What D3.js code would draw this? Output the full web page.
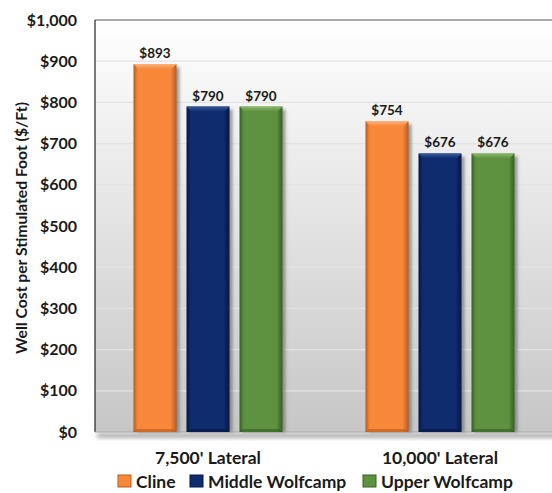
<!DOCTYPE html>
<html><head><meta charset="utf-8">
<script src="https://cdn.jsdelivr.net/npm/d3@7"></script>
<style>html,body{margin:0;padding:0;background:#fff;}svg{display:block;}</style>
</head><body>
<script>
const categories = ["7,500' Lateral", "10,000' Lateral"];
const seriesNames = ["Cline", "Middle Wolfcamp", "Upper Wolfcamp"];
const cline = [893, 754];
const middleWolfcamp = [790, 676];
const upperWolfcamp = [790, 676];
const yTicks = [0, 100, 200, 300, 400, 500, 600, 700, 800, 900, 1000];

const seriesValues = [cline, middleWolfcamp, upperWolfcamp];
const colors = [
  {main: "#F7883A", light: "#FBB27A", dark: "#B85A1C"},
  {main: "#0E2C6E", light: "#3A5A9E", dark: "#051640"},
  {main: "#5E9140", light: "#8DBA6C", dark: "#365F22"}
];

const W = 552, H = 493;
const svg = d3.select("body").append("svg").attr("width", W).attr("height", H)
  .style("font-family", "Lato, 'Open Sans', sans-serif");
const defs = svg.append("defs");

const plotL = 95, plotT = 20, plotB = 432, plotR = 560;
const y = d3.scaleLinear().domain([0, 1000]).range([plotB, plotT]);
const x0 = d3.scaleBand().domain(categories).range([92, 556]).padding(0);
const x1 = d3.scaleBand().domain(seriesNames).range([0, x0.bandwidth()])
  .paddingInner(0.189).paddingOuter(0.783);

const bg = defs.append("linearGradient").attr("id", "bg").attr("x1", 0).attr("y1", 0).attr("x2", 0).attr("y2", 1);
bg.append("stop").attr("offset", "0%").attr("stop-color", "#ffffff");
bg.append("stop").attr("offset", "100%").attr("stop-color", "#c6c6c6");

const fs = defs.append("filter").attr("id", "blur").attr("x", "-20%").attr("y", "-50%").attr("width", "140%").attr("height", "200%");
fs.append("feGaussianBlur").attr("stdDeviation", 2);
const bs = defs.append("filter").attr("id", "bblur").attr("x", "-50%").attr("y", "-10%").attr("width", "200%").attr("height", "120%");
bs.append("feGaussianBlur").attr("stdDeviation", 1.8);

svg.append("rect").attr("x", plotL + 2).attr("y", plotB + 1).attr("width", W).attr("height", 5)
  .attr("fill", "#9a9a9a").attr("filter", "url(#blur)").attr("opacity", 0.8);

svg.append("rect").attr("x", plotL).attr("y", plotT).attr("width", plotR - plotL).attr("height", plotB - plotT)
  .attr("fill", "url(#bg)");

svg.append("g").selectAll("line").data(yTicks.filter(d => d > 0 && d < 1000)).join("line")
  .attr("x1", plotL).attr("x2", W).attr("y1", d => y(d)).attr("y2", d => y(d))
  .attr("stroke", "#e3e3e3").attr("stroke-width", 1.2);

svg.append("line").attr("x1", plotL).attr("x2", W).attr("y1", plotT).attr("y2", plotT).attr("stroke", "#555").attr("stroke-width", 1.2);
svg.append("line").attr("x1", plotL).attr("x2", plotL).attr("y1", plotT).attr("y2", plotB).attr("stroke", "#222").attr("stroke-width", 1.2);
svg.append("line").attr("x1", plotL).attr("x2", W).attr("y1", plotB).attr("y2", plotB).attr("stroke", "#a8a8a8").attr("stroke-width", 1);

colors.forEach((c, i) => {
  const g = defs.append("linearGradient").attr("id", "bar" + i).attr("x1", 0).attr("x2", 1).attr("y1", 0).attr("y2", 0);
  g.append("stop").attr("offset", "0%").attr("stop-color", c.dark);
  g.append("stop").attr("offset", "10%").attr("stop-color", c.main);
  g.append("stop").attr("offset", "86%").attr("stop-color", c.main);
  g.append("stop").attr("offset", "100%").attr("stop-color", c.dark);
  const t = defs.append("linearGradient").attr("id", "top" + i).attr("x1", 0).attr("x2", 0).attr("y1", 0).attr("y2", 1);
  t.append("stop").attr("offset", "0%").attr("stop-color", c.light);
  t.append("stop").attr("offset", "100%").attr("stop-color", c.main);
});

const bars = [];
categories.forEach((cat, ci) => {
  seriesNames.forEach((s, si) => {
    bars.push({cat, s, si, v: seriesValues[si][ci]});
  });
});

const bw = x1.bandwidth();
const gBars = svg.append("g");
gBars.selectAll("rect.sh").data(bars).join("rect").attr("class", "sh")
  .attr("x", d => x0(d.cat) + x1(d.s) + 3).attr("y", d => y(d.v) + 3)
  .attr("width", bw).attr("height", d => plotB - y(d.v) - 3)
  .attr("fill", "#555").attr("opacity", 0.55).attr("filter", "url(#bblur)");
gBars.selectAll("rect.b").data(bars).join("rect").attr("class", "b")
  .attr("x", d => x0(d.cat) + x1(d.s)).attr("y", d => y(d.v))
  .attr("width", bw).attr("height", d => plotB - y(d.v))
  .attr("fill", d => `url(#bar${d.si})`);
gBars.selectAll("path.tb").data(bars).join("path").attr("class", "tb")
  .attr("d", d => {
    const xl = x0(d.cat) + x1(d.s), xr = xl + bw, yt = y(d.v), b = 5;
    return `M${xl},${yt}L${xr},${yt}L${xr - b},${yt + b}L${xl + b},${yt + b}Z`;
  })
  .attr("fill", d => `url(#top${d.si})`);
gBars.selectAll("path.bb").data(bars).join("path").attr("class", "bb")
  .attr("d", d => {
    const xl = x0(d.cat) + x1(d.s), xr = xl + bw, yb = plotB, b = 3;
    return `M${xl},${yb}L${xr},${yb}L${xr - b},${yb - b}L${xl + b},${yb - b}Z`;
  })
  .attr("fill", d => colors[d.si].dark).attr("opacity", 0.6);

svg.append("g").selectAll("text").data(bars).join("text")
  .attr("x", d => x0(d.cat) + x1(d.s) + bw / 2).attr("y", d => y(d.v) - 6)
  .attr("text-anchor", "middle").attr("font-size", 13.5).attr("font-weight", "bold").attr("fill", "#1a1a1a")
  .text(d => "$" + d.v);

const fmt = d3.format(",");
svg.append("g").selectAll("text").data(yTicks).join("text")
  .attr("x", 77).attr("y", d => y(d)).attr("dy", "0.35em").attr("text-anchor", "end")
  .attr("font-size", 16).attr("font-weight", "bold").attr("fill", "#1a1a1a")
  .text(d => "$" + fmt(d));

svg.append("text").attr("transform", `translate(27,228) rotate(-90)`)
  .attr("text-anchor", "middle").attr("font-size", 15.7).attr("font-weight", "bold").attr("fill", "#1a1a1a")
  .text("Well Cost per Stimulated Foot ($/Ft)");

svg.append("g").selectAll("text").data(categories).join("text")
  .attr("x", d => x0(d) + x0.bandwidth() / 2).attr("y", 464).attr("text-anchor", "middle")
  .attr("font-size", 17.5).attr("font-weight", "bold").attr("fill", "#1a1a1a")
  .text(d => d);

const legendX = [118, 190, 363];
const lg = svg.append("g").selectAll("g").data(seriesNames).join("g")
  .attr("transform", (d, i) => `translate(${legendX[i]},475)`);
lg.append("rect").attr("width", 13).attr("height", 12).attr("fill", (d, i) => colors[i].main)
  .attr("stroke", (d, i) => colors[i].dark).attr("stroke-width", 1);
lg.append("text").attr("x", 18).attr("y", 12.5).attr("font-size", 17.5).attr("font-weight", "bold").attr("fill", "#1a1a1a")
  .text(d => d);
</script>
</body></html>
